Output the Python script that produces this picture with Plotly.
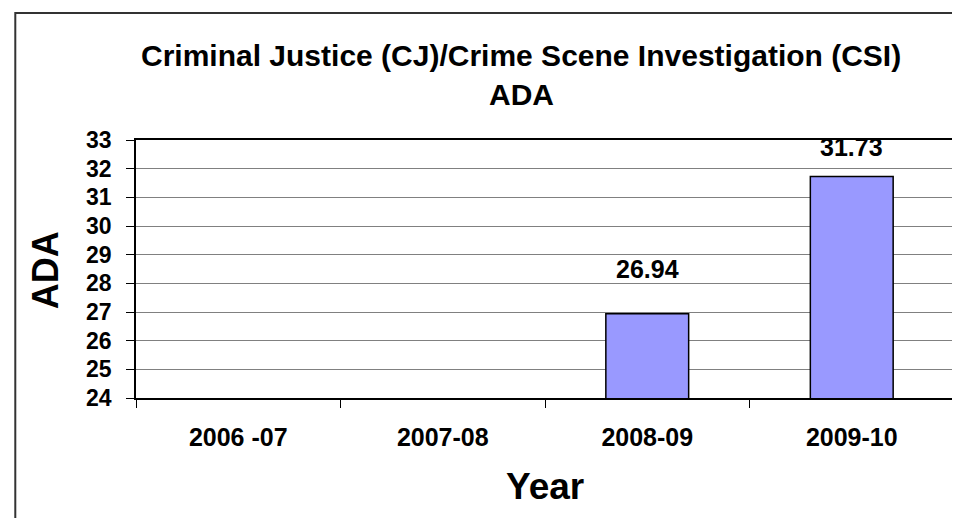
import plotly.graph_objects as go

years = ["2006 -07", "2007-08", "2008-09", "2009-10"]
ada = [None, None, 26.94, 31.73]
label_text = ["", "", "26.94", "31.73"]
label_shift = [0, 0, 29, 13]

title_line1 = "Criminal Justice (CJ)/Crime Scene Investigation (CSI)"
title_line2 = "ADA"
x_title = "Year"
y_title = "ADA"

W, H = 960, 518
L, R, T, B = 128, 12, 132, 128
pw, ph = W - L - R, H - T - B

def px_x(px):
    return (px - L) / pw

def px_y(py):
    return (H - B - py) / ph

FONT = "Liberation Sans, Arial, sans-serif"

fig = go.Figure()
fig.add_trace(go.Bar(
    x=years, y=ada, width=0.405,
    marker=dict(color="#9999FF", line=dict(color="black", width=1.5)),
    hoverinfo="skip",
))

annotations = []
for xv, yv, t, s in zip(years, ada, label_text, label_shift):
    if yv is None:
        continue
    annotations.append(dict(
        x=xv, y=yv, xref="x", yref="y", text=t, showarrow=False,
        yanchor="bottom", yshift=s,
        font=dict(family=FONT, size=25, color="black", weight="bold"),
    ))

annotations += [
    dict(x=px_x(514), y=px_y(47), xref="paper", yref="paper", text=title_line1, showarrow=False,
         xanchor="center", yanchor="middle", font=dict(family=FONT, size=30, color="black", weight="bold")),
    dict(x=px_x(514), y=px_y(87), xref="paper", yref="paper", text=title_line2, showarrow=False,
         xanchor="center", yanchor="middle", font=dict(family=FONT, size=30, color="black", weight="bold")),
    dict(x=px_x(538), y=px_y(478), xref="paper", yref="paper", text=x_title, showarrow=False,
         xanchor="center", yanchor="middle", font=dict(family=FONT, size=37, color="black", weight="bold")),
    dict(x=px_x(37), y=px_y(262), xref="paper", yref="paper", text=y_title, showarrow=False,
         textangle=-90, xanchor="center", yanchor="middle",
         font=dict(family=FONT, size=36, color="black", weight="bold")),
]

fig.update_layout(
    width=W, height=H,
    margin=dict(l=L, r=R, t=T, b=B, pad=0),
    paper_bgcolor="white", plot_bgcolor="white",
    showlegend=False,
    annotations=annotations,
    shapes=[dict(type="rect", xref="paper", yref="paper",
                 x0=px_x(7), x1=px_x(1000), y0=px_y(560), y1=px_y(5),
                 line=dict(color="#333333", width=2), fillcolor="rgba(0,0,0,0)", layer="below")],
)

fig.update_xaxes(
    type="category", categoryorder="array", categoryarray=years,
    showline=True, linecolor="black", linewidth=1.5, mirror=True,
    ticks="outside", tickson="boundaries", ticklen=8, tickcolor="black",
    ticklabelstandoff=16,
    tickfont=dict(family=FONT, size=25, color="black", weight="bold"),
    showgrid=False, zeroline=False,
)
fig.update_yaxes(
    range=[24, 33], dtick=1, tick0=24,
    showline=True, linecolor="black", linewidth=1.5, mirror=True,
    ticks="outside", ticklen=8, tickcolor="black",
    ticklabelstandoff=10,
    tickfont=dict(family=FONT, size=23, color="black", weight="bold"),
    showgrid=True, gridcolor="#808080", gridwidth=1, zeroline=False,
)

fig.write_html("out.html")
